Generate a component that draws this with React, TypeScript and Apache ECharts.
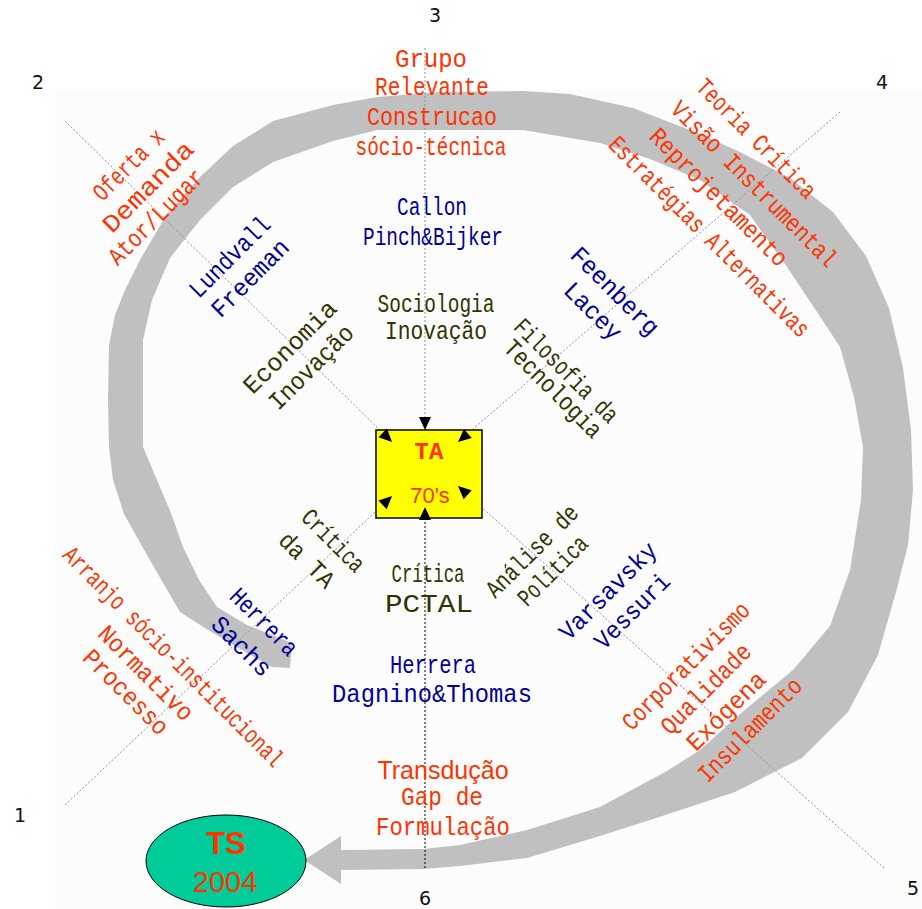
import React, { useEffect, useRef } from 'react';
import * as echarts from 'echarts';

// ---- Diagram content (texts) ----
const axisNumbers = ['1', '2', '3', '4', '5', '6'];
const centerTitle = ['TA', "70's"];
const endTitle = ['TS', '2004'];
const northTexts = ['Grupo', 'Relevante', 'Construcao', 'sócio-técnica', 'Callon', 'Pinch&Bijker', 'Sociologia', 'Inovação'];
const southTexts = ['Crítica', 'PCTAL', 'Herrera', 'Dagnino&Thomas', 'Transdução', 'Gap de', 'Formulação'];
const northWestTexts = ['Oferta x', 'Demanda', 'Ator/Lugar', 'Lundvall', 'Freeman', 'Economia', 'Inovação'];
const northEastTexts = ['Teoria Crítica', 'Visão Instrumental', 'Reprojetamento', 'Estratégias Alternativas', 'Feenberg', 'Lacey', 'Filosofia da', 'Tecnologia'];
const southWestTexts = ['Crítica', 'da TA', 'Herrera', 'Sachs', 'Arranjo sócio-institucional', 'Normativo', 'Processo'];
const southEastTexts = ['Análise de', 'Política', 'Varsavsky', 'Vessuri', 'Corporativismo', 'Qualidade', 'Exógena', 'Insulamento'];

const RED = '#ff3300';
const BLUE = '#000099';
const OLIVE = '#333300';
const MONO = "'Liberation Mono', 'Courier New', monospace";
const SANS = "'Liberation Sans', Arial, sans-serif";
const FS = 25;

export default function App() {
  const ref = useRef<HTMLDivElement>(null);

  useEffect(() => {
    document.body.style.margin = '0';
    const chart = echarts.init(ref.current!, null, { renderer: 'svg' });

    const els: any[] = [];

    // faint page background
    els.push({ type: 'rect', z: 0, shape: { x: 55, y: 90, width: 867, height: 819 }, style: { fill: '#fcfcfc' } });

    // big grey loop arrow
    const outer = [[290, 668], [272, 667], [235, 646], [208, 630], [180, 612], [162, 581], [143, 548], [124, 514], [113, 480], [109, 447], [108, 400], [109, 345], [115, 315], [125, 290], [140, 260], [167, 214], [200, 177], [233, 146], [273, 121], [333, 105], [377, 97], [440, 92], [523, 91], [570, 94], [633, 108], [700, 134], [740, 152], [790, 178], [833, 212], [866, 256], [889, 308], [903, 368], [911, 430], [913, 490], [908, 545], [896, 592], [878, 655], [848, 712], [802, 758], [735, 792], [650, 820], [600, 836], [527, 858], [460, 866], [423, 869], [341, 870]];
    const head = [[341, 884], [304, 860], [341, 836]];
    const inner = [[341, 850], [423, 849], [460, 845], [527, 830], [600, 807], [667, 771], [700, 750], [740, 714], [793, 670], [830, 626], [850, 570], [861, 500], [863, 447], [854, 397], [840, 347], [817, 312], [787, 267], [750, 215], [700, 180], [650, 159], [600, 143], [523, 130], [377, 130], [333, 141], [273, 162], [233, 187], [200, 220], [170, 258], [152, 300], [143, 340], [143, 447], [157, 480], [171, 513], [183, 547], [199, 580], [217, 607], [247, 625], [292, 643]];
    els.push({ type: 'polygon', z: 1, shape: { points: [...outer, ...head, ...inner] }, style: { fill: '#c0c0c0' } });

    // connector lines with arrowheads into the central box
    const connectors = [
      { from: [425, 48], to: [425, 430], color: '#909090' },
      { from: [425, 868], to: [425, 507], color: '#000000' },
      { from: [65, 121], to: [392, 442], color: '#909090' },
      { from: [840, 112], to: [458, 442], color: '#909090' },
      { from: [65, 805], to: [392, 496], color: '#909090' },
      { from: [884, 868], to: [458, 486], color: '#909090' },
    ];
    const arrowHeads: any[] = [];
    connectors.forEach((c) => {
      els.push({
        type: 'line', z: 2,
        shape: { x1: c.from[0], y1: c.from[1], x2: c.to[0], y2: c.to[1] },
        style: { stroke: c.color, lineWidth: 1, lineDash: [2, 2] },
      });
      const dx = c.to[0] - c.from[0];
      const dy = c.to[1] - c.from[1];
      const len = Math.sqrt(dx * dx + dy * dy);
      const ux = dx / len, uy = dy / len;
      const L = 13, W = 6;
      const bx = c.to[0] - ux * L, by = c.to[1] - uy * L;
      arrowHeads.push({
        type: 'polygon', z: 6,
        shape: { points: [[c.to[0], c.to[1]], [bx - uy * W, by + ux * W], [bx + uy * W, by - ux * W]] },
        style: { fill: '#000' },
      });
    });

    // central box
    els.push({ type: 'rect', z: 5, shape: { x: 376, y: 430, width: 106, height: 88 }, style: { fill: '#ffff00', stroke: '#000', lineWidth: 1.5 } });
    els.push(...arrowHeads);
    els.push({ type: 'text', z: 7, x: 429, y: 452, style: { text: centerTitle[0], fill: RED, fontFamily: MONO, fontWeight: 'bold', fontSize: 24, align: 'center', verticalAlign: 'middle' } });
    els.push({ type: 'text', z: 7, x: 430, y: 495, style: { text: centerTitle[1], fill: RED, fontFamily: SANS, fontSize: 22, align: 'center', verticalAlign: 'middle' } });

    // end ellipse
    els.push({ type: 'ellipse', z: 8, shape: { cx: 226, cy: 861, rx: 80, ry: 46 }, style: { fill: '#00cc99', stroke: '#000', lineWidth: 1 } });
    els.push({ type: 'text', z: 9, x: 226, y: 843, style: { text: endTitle[0], fill: RED, fontFamily: SANS, fontWeight: 'bold', fontSize: 31, align: 'center', verticalAlign: 'middle' } });
    els.push({ type: 'text', z: 9, x: 225, y: 882, style: { text: endTitle[1], fill: RED, fontFamily: SANS, fontSize: 29, align: 'center', verticalAlign: 'middle' } });

    // axis numbers
    const numPos = [[20, 815], [38, 82], [435, 15], [882, 82], [913, 888], [425, 898]];
    axisNumbers.forEach((t, i) => {
      els.push({ type: 'text', z: 4, x: numPos[i][0], y: numPos[i][1], style: { text: t, fill: '#111', fontFamily: "'DejaVu Sans', sans-serif", fontSize: 19, align: 'center', verticalAlign: 'middle' } });
    });

    // labels
    const addLabels = (texts: string[], pos: any[], rotDeg: number) => {
      texts.forEach((t, i) => {
        const p = pos[i];
        if (!p) return;
        const natural = t.length * 0.6 * FS;
        els.push({
          type: 'text', z: 4, x: p[0], y: p[1],
          rotation: (rotDeg * Math.PI) / 180,
          scaleX: p[2] / natural,
          style: { text: t, fill: p[3], fontFamily: MONO, fontSize: FS, align: 'center', verticalAlign: 'middle' },
        });
      });
    };

    addLabels(northTexts, [
      [431, 60, 72, RED], [432, 89, 114, RED], [432, 119, 130, RED], [431, 148, 151, RED],
      [432, 208, 70, BLUE], [433, 238, 140, BLUE], [436, 305, 117, OLIVE], [436, 333, 102, OLIVE],
    ], 0);

    const southPos = [
      [428, 575, 73, OLIVE], [429, 605, 88, OLIVE], [433, 666, 86, BLUE], [432, 695, 200, BLUE],
      null, [442, 798, 82, RED], [443, 828, 134, RED],
    ];
    addLabels(southTexts, southPos, 0);
    els.push({ type: 'text', z: 4, x: 443, y: 770, style: { text: southTexts[4], fill: RED, fontFamily: SANS, fontSize: 25, align: 'center', verticalAlign: 'middle' } });

    addLabels(northWestTexts, [
      [130, 166, 90, RED], [149, 188, 118, RED], [157, 218, 124, RED],
      [231, 258, 104, BLUE], [251, 279, 99, BLUE], [291, 348, 121, OLIVE], [312, 368, 109, OLIVE],
    ], 45);

    addLabels(northEastTexts, [
      [755, 140, 158, RED], [753, 185, 224, RED], [718, 198, 184, RED], [708, 238, 273, RED],
      [614, 292, 114, BLUE], [592, 312, 71, BLUE], [565, 372, 136, OLIVE], [552, 390, 128, OLIVE],
    ], -45);

    addLabels(southWestTexts, [
      [332, 542, 78, OLIVE], [306, 561, 68, OLIVE], [263, 623, 85, BLUE], [241, 647, 74, BLUE],
      [172, 658, 300, RED], [145, 674, 124, RED], [125, 693, 110, RED],
    ], -45);

    addLabels(southEastTexts, [
      [533, 552, 120, OLIVE], [554, 572, 88, OLIVE], [609, 592, 127, BLUE], [633, 612, 96, BLUE],
      [687, 667, 170, RED], [707, 690, 117, RED], [727, 712, 101, RED], [751, 731, 136, RED],
    ], 45);

    chart.setOption({ animation: false, graphic: { elements: els } });
    return () => chart.dispose();
  }, []);

  return <div ref={ref} style={{ width: 922, height: 909 }} />;
}
